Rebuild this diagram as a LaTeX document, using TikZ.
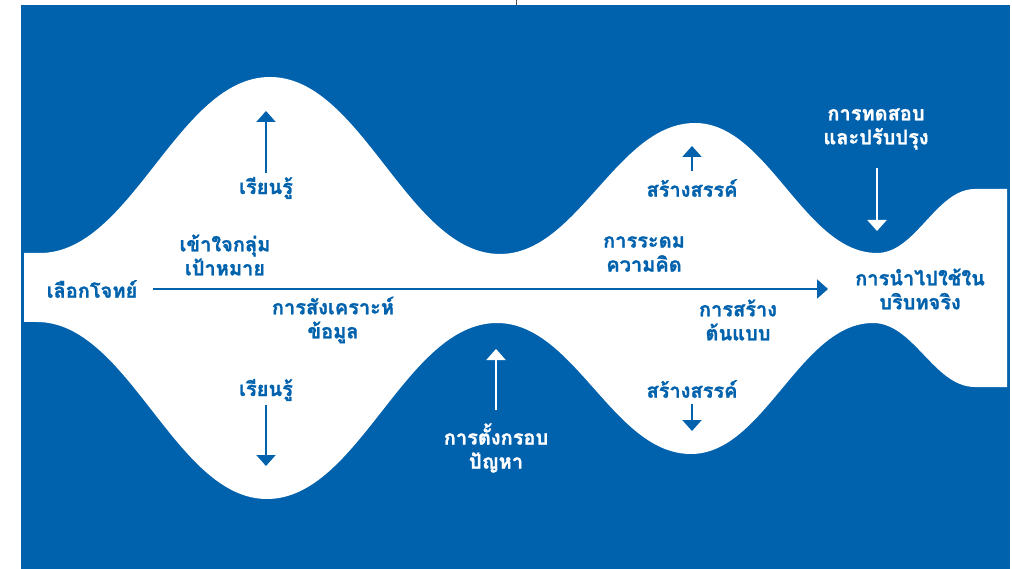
\documentclass[tikz,border=0pt]{standalone}
\usepackage{fontspec}
\newfontfamily\thaifont[Script=Thai, BoldFeatures={FakeBold=1.2}]{Loma}
\usetikzlibrary{arrows.meta}
\definecolor{brandblue}{RGB}{0,97,173}
\begin{document}
\begin{tikzpicture}[x=1pt,y=-1pt,
  lbl/.style={font=\thaifont\bfseries\fontsize{20}{24}\selectfont, align=center, inner sep=0pt},
  bluetxt/.style={lbl,text=brandblue},
  whitetxt/.style={lbl,text=white},
  tipstyle/.style={-{Triangle[length=11pt,width=19pt]}},
  barrow/.style={draw=brandblue,line width=2pt,tipstyle},
  warrow/.style={draw=white,line width=2pt,tipstyle},
]
\useasboundingbox (0,0) rectangle (1012,569);
% background
\fill[brandblue] (21,5) rectangle (1010,569);
\draw[gray!60!black, line width=0.8pt] (516,0) -- (516,5);
% white wave band
\fill[white] (24,253) -- (40,253)
  .. controls (132,253) and (178,77) .. (270,77)
  .. controls (362,77) and (408,254) .. (500,254)
  .. controls (578,254) and (617,123) .. (695,123)
  .. controls (768,123) and (804,253) .. (877,253)
  .. controls (916,253) and (936,189) .. (975,189)
  -- (1007,189) -- (1007,387) -- (975,387)
  .. controls (934,387) and (914,323) .. (873,323)
  .. controls (800,323) and (764,454) .. (691,454)
  .. controls (613,454) and (575,323) .. (497,323)
  .. controls (405,323) and (359,499) .. (267,499)
  .. controls (175,499) and (129,322) .. (37,322)
  -- (24,322) -- cycle;

% texts
\node[bluetxt] (choose) at (92,289) {เลือกโจทย์};
\node[bluetxt] (empath) at (225,255) {เข้าใจกลุ่ม\\เป้าหมาย};
\node[bluetxt] (synth) at (333,320) {การสังเคราะห์\\ข้อมูล};
\node[bluetxt] (learnup) at (266,188) {เรียนรู้};
\node[bluetxt] (learndn) at (266,390) {เรียนรู้};
\node[whitetxt] (frame) at (496,448) {การตั้งกรอบ\\ปัญหา};
\node[bluetxt] (createup) at (692,188) {สร้างสรรค์};
\node[bluetxt] (ideate) at (644,254) {การระดม\\ความคิด};
\node[bluetxt] (proto) at (738,320) {การสร้าง\\ต้นแบบ};
\node[bluetxt] (createdn) at (692,389) {สร้างสรรค์};
\node[whitetxt] (test) at (876,129) {การทดสอบ\\และปรับปรุง};
\node[bluetxt] (impl) at (920,289) {การนำไปใช้ใน\\บริบทจริง};

% arrow end points
\coordinate (mainS) at (153,289);
\coordinate (mainE) at (828,289);
\coordinate (luS) at (266,173);
\coordinate (luE) at (266,111);
\coordinate (ldS) at (266,405);
\coordinate (ldE) at (266,466);
\coordinate (frS) at (496,410);
\coordinate (frE) at (496,349);
\coordinate (cuS) at (692,171);
\coordinate (cuE) at (692,146);
\coordinate (cdS) at (692,404);
\coordinate (cdE) at (692,431);
\coordinate (tsS) at (877,168);
\coordinate (tsE) at (877,231);

\draw[barrow] (mainS) -- (mainE);
\draw[barrow] (luS) -- (luE);
\draw[barrow] (ldS) -- (ldE);
\draw[warrow] (frS) -- (frE);
\draw[barrow] (cuS) -- (cuE);
\draw[barrow] (cdS) -- (cdE);
\draw[warrow] (tsS) -- (tsE);
\end{tikzpicture}
\end{document}
